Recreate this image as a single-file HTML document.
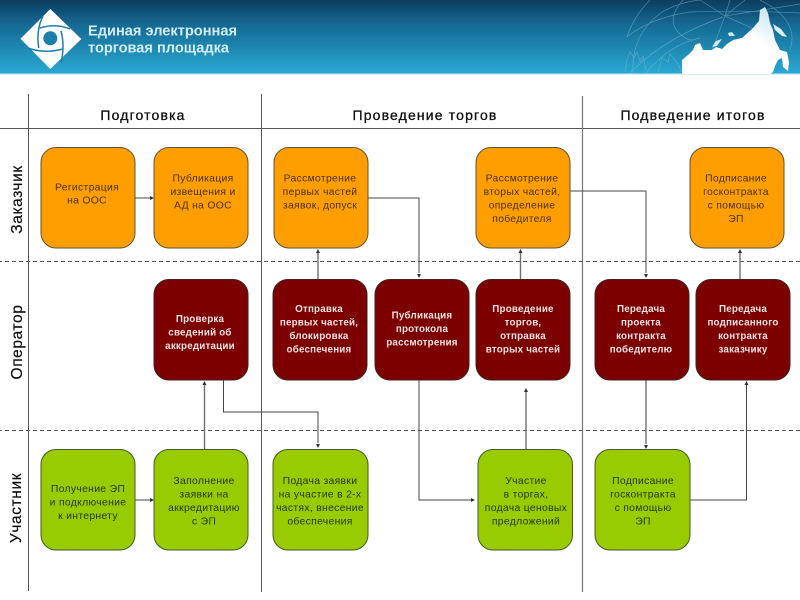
<!DOCTYPE html>
<html lang="ru">
<head>
<meta charset="utf-8">
<title>Единая электронная торговая площадка</title>
<style>
html,body{margin:0;padding:0;background:#fff;width:800px;height:600px;overflow:hidden}
svg{display:block;position:absolute;left:0;top:0}
text{font-family:"Liberation Sans",sans-serif}
.t{font-size:10.4px;text-anchor:middle;letter-spacing:.3px}
.o{fill:#4a3206}
.g{fill:#263803}
.m{fill:#f5e2e2;font-weight:bold;font-size:9.8px;letter-spacing:.2px}
.h{font-size:14px;text-anchor:middle;fill:#111;letter-spacing:1.15px;stroke:#111;stroke-width:.3}
.v{font-size:15.5px;text-anchor:middle;fill:#111;letter-spacing:.6px;stroke:#111;stroke-width:.2}
.bo{fill:#ff9e00;stroke:#5f5230;stroke-width:1}
.bm{fill:#7c0000;stroke:#3f2424;stroke-width:1}
.bg{fill:#99cc00;stroke:#435a2c;stroke-width:1}
.c{fill:none;stroke:#444;stroke-width:1}
.cl{fill:none;stroke:#6e6e6e;stroke-width:1.4}
.a{fill:#333}
</style>
</head>
<body>
<svg width="800" height="600" viewBox="0 0 800 600" xmlns="http://www.w3.org/2000/svg">
<defs>
<linearGradient id="hd" x1="0" y1="0" x2="0" y2="1">
<stop offset="0" stop-color="#0b3a5a"/>
<stop offset=".35" stop-color="#156a94"/>
<stop offset="1" stop-color="#2aa9d3"/>
</linearGradient>
<linearGradient id="ru" x1="0" y1="1" x2="1" y2="0">
<stop offset=".6" stop-color="#ffffff"/>
<stop offset="1" stop-color="#b5dcea"/>
</linearGradient>
<filter id="soft" x="-2%" y="-2%" width="104%" height="104%"><feGaussianBlur stdDeviation=".3"/></filter>
</defs>

<g filter="url(#soft)">
<!-- header -->
<rect x="-2" y="-2" width="804" height="76" fill="url(#hd)"/>
<rect x="-2" y="73.5" width="804" height="1.2" fill="#c9eaf4"/>

<!-- globe lines -->
<g fill="none" stroke="#7fbdd3" stroke-width=".7" opacity=".55">
<path d="M627 37 Q634 16 650 0"/>
<path d="M633 73 Q631 34 662 12 Q680 2 700 0"/>
<path d="M683 0 Q665 20 680 34 Q686 40 693 40"/>
<path d="M627 37 Q650 18 690 12 Q740 10 800 13"/>
<path d="M630 73 Q664 38 723 17"/>
<path d="M645 74 Q670 44 700 38"/>
<path d="M725 16 L700 0M725 16 L730 0M725 16 L745 0M725 16 L770 36M725 16 L712 50M725 16 L800 4M760 0 Q800 20 790 50"/>
<path d="M625 72 l2 -12 3 -8 4 6 3 -6 3 10 3 -6 3 14 M658 72 l4 -14 6 4 2 -8 8 10 4 8"/>
</g>
<!-- Russia silhouette -->
<path fill="url(#ru)" d="M682 74 L682 60 L688 55 L693 50 L695 45 L700 43 L703 50 L712 50 L716 47 L722 49 L727 44 L733 40 L742 38 L753 28 L759 21 L760 10 L765 7 L768 13 L770 23 L773 30 L775 40 L780 50 L787 52 L789 62 L788 71 L783 67 L782 58 L778 60 L775 66 L773 72 L770 74 Z"/>
<path fill="#dceff6" d="M773 24 L781 29 L787 37 L782 36 L775 30 Z"/>
<path fill="#cfe8f2" d="M712 47 L716 41 L722 39 L717 46 Z M728 33 L732 32 L735 36 L729 36 Z"/>

<!-- logo -->
<path fill="#fff" d="M50.3 9 L81.3 39 L50.3 69 L20.5 38.7 Z"/>
<g fill="none" stroke="#1f7fa9" stroke-width="1.5">
<path d="M43 16 Q36 30 38.7 48"/>
<path d="M70 29 Q56 23 40 28"/>
<path d="M61 63 Q65 46 61 31"/>
<path d="M28 48 Q44 54 63 49"/>
</g>
<circle cx="50.3" cy="38.3" r="7" fill="#1f7fa9"/>
<text x="88" y="35.5" font-size="14.4" font-weight="bold" fill="#d3ecf5" textLength="149" lengthAdjust="spacingAndGlyphs">Единая электронная</text>
<text x="88" y="52.5" font-size="14.4" font-weight="bold" fill="#d3ecf5" textLength="141" lengthAdjust="spacingAndGlyphs">торговая площадка</text>

<!-- grid -->
<g stroke="#555" fill="none">
<path d="M-2 128.5H802" stroke-width="1.1"/>
<path d="M28.5 94V591" stroke-width="1"/>
<path d="M261.5 94V592" stroke-width="1"/>
<path d="M582.5 96V592" stroke="#777" stroke-width="1.2"/>
<path d="M-2 261.5H802" stroke-dasharray="4 3" stroke-width="1.1"/>
<path d="M-2 430.5H802" stroke-dasharray="4 3" stroke-width="1.1"/>
</g>

<!-- column & row headers -->
<text class="h" x="143" y="120">Подготовка</text>
<text class="h" x="425" y="120">Проведение торгов</text>
<text class="h" x="693" y="120">Подведение итогов</text>
<text class="v" transform="translate(22,199.5) rotate(-90)">Заказчик</text>
<text class="v" transform="translate(22,342) rotate(-90)">Оператор</text>
<text class="v" transform="translate(21,508) rotate(-90)">Участник</text>

<!-- connectors -->
<path class="c" d="M135 198H151"/>
<path class="a" d="M154 198l-4 -2v4z"/>
<path class="cl" d="M318 279V252"/>
<path class="a" d="M318 249l-2 4h4z"/>
<path class="c" d="M368 198H419V273"/>
<path class="a" d="M419 278l-2 -4h4z"/>
<path class="cl" d="M520.5 279V252"/>
<path class="a" d="M520.5 249l-2 4h4z"/>
<path class="c" d="M570 191H646V273"/>
<path class="a" d="M646 278l-2 -4h4z"/>
<path class="cl" d="M740 279V252"/>
<path class="a" d="M740 249l-2 4h4z"/>
<path class="cl" d="M204.5 449V384"/>
<path class="a" d="M204.5 381l-2 4h4z"/>
<path class="c" d="M223.5 380V412H318V443"/>
<path class="a" d="M318 448l-2 -4h4z"/>
<path class="c" d="M135 500H151"/>
<path class="a" d="M154 500l-4 -2v4z"/>
<path class="c" d="M419 380V500H471"/>
<path class="a" d="M475 500l-4 -2v4z"/>
<path class="cl" d="M526 449V392"/>
<path class="a" d="M526 388l-2 4h4z"/>
<path class="cl" d="M646 380V444"/>
<path class="a" d="M646 449l-2 -4h4z"/>
<path class="c" d="M690 500H746.5V384"/>
<path class="a" d="M746.5 381l-2 4h4z"/>

<!-- row 1 -->
<rect class="bo" x="41" y="147.5" width="94" height="100.5" rx="15"/>
<rect class="bo" x="154" y="147.5" width="94" height="100.5" rx="15"/>
<rect class="bo" x="274" y="147.5" width="94" height="100.5" rx="15"/>
<rect class="bo" x="476" y="147.5" width="94" height="100.5" rx="15"/>
<rect class="bo" x="690" y="147.5" width="94" height="100.5" rx="15"/>
<!-- row 2 -->
<rect class="bm" x="154" y="279.5" width="94" height="100.5" rx="15"/>
<rect class="bm" x="273" y="279.5" width="94" height="100.5" rx="15"/>
<rect class="bm" x="375" y="279.5" width="94" height="100.5" rx="15"/>
<rect class="bm" x="476" y="279.5" width="94" height="100.5" rx="15"/>
<rect class="bm" x="595" y="279.5" width="94" height="100.5" rx="15"/>
<rect class="bm" x="696" y="279.5" width="94" height="100.5" rx="15"/>
<!-- row 3 -->
<rect class="bg" x="41" y="449.5" width="94" height="100.5" rx="15"/>
<rect class="bg" x="154" y="449.5" width="94" height="100.5" rx="15"/>
<rect class="bg" x="273" y="449.5" width="95" height="100.5" rx="15"/>
<rect class="bg" x="478" y="449.5" width="94.5" height="100.5" rx="15"/>
<rect class="bg" x="595" y="449.5" width="95" height="100.5" rx="15"/>

<!-- row 1 text -->
<text class="t o" x="87" y="190.5">Регистрация</text>
<text class="t o" x="87" y="203.5">на ООС</text>
<text class="t o" x="203" y="181.5">Публикация</text>
<text class="t o" x="203" y="195">извещения и</text>
<text class="t o" x="203" y="208.5">АД на ООС</text>
<text class="t o" x="320" y="181.5">Рассмотрение</text>
<text class="t o" x="320" y="195">первых частей</text>
<text class="t o" x="320" y="208.5">заявок, допуск</text>
<text class="t o" x="522" y="181.5">Рассмотрение</text>
<text class="t o" x="522" y="195">вторых частей,</text>
<text class="t o" x="522" y="208.5">определение</text>
<text class="t o" x="522" y="222">победителя</text>
<text class="t o" x="736" y="181.5">Подписание</text>
<text class="t o" x="736" y="195">госконтракта</text>
<text class="t o" x="736" y="208.5">с помощью</text>
<text class="t o" x="736" y="222">ЭП</text>

<!-- row 2 text -->
<text class="t m" x="200" y="322">Проверка</text>
<text class="t m" x="200" y="335.5">сведений об</text>
<text class="t m" x="200" y="349">аккредитации</text>
<text class="t m" x="319" y="312">Отправка</text>
<text class="t m" x="319" y="325.5">первых частей,</text>
<text class="t m" x="319" y="339">блокировка</text>
<text class="t m" x="319" y="352.5">обеспечения</text>
<text class="t m" x="422" y="318.5">Публикация</text>
<text class="t m" x="422" y="332">протокола</text>
<text class="t m" x="422" y="345.5">рассмотрения</text>
<text class="t m" x="523" y="312">Проведение</text>
<text class="t m" x="523" y="325.5">торгов,</text>
<text class="t m" x="523" y="339">отправка</text>
<text class="t m" x="523" y="352.5">вторых частей</text>
<text class="t m" x="641" y="312">Передача</text>
<text class="t m" x="641" y="325.5">проекта</text>
<text class="t m" x="641" y="339">контракта</text>
<text class="t m" x="641" y="352.5">победителю</text>
<text class="t m" x="743" y="312">Передача</text>
<text class="t m" x="743" y="325.5">подписанного</text>
<text class="t m" x="743" y="339">контракта</text>
<text class="t m" x="743" y="352.5">заказчику</text>

<!-- row 3 text -->
<text class="t g" x="88" y="492">Получение ЭП</text>
<text class="t g" x="88" y="505.5">и подключение</text>
<text class="t g" x="88" y="519">к интернету</text>
<text class="t g" x="204" y="484">Заполнение</text>
<text class="t g" x="204" y="497.5">заявки на</text>
<text class="t g" x="204" y="511">аккредитацию</text>
<text class="t g" x="204" y="524.5">с ЭП</text>
<text class="t g" x="320" y="484">Подача заявки</text>
<text class="t g" x="320" y="497.5">на участие в 2-х</text>
<text class="t g" x="320" y="511">частях, внесение</text>
<text class="t g" x="320" y="524.5">обеспечения</text>
<text class="t g" x="526" y="484">Участие</text>
<text class="t g" x="526" y="497.5">в торгах,</text>
<text class="t g" x="526" y="511">подача ценовых</text>
<text class="t g" x="526" y="524.5">предложений</text>
<text class="t g" x="643" y="484">Подписание</text>
<text class="t g" x="643" y="497.5">госконтракта</text>
<text class="t g" x="643" y="511">с помощью</text>
<text class="t g" x="643" y="524.5">ЭП</text>
</g>
</svg>
</body>
</html>
